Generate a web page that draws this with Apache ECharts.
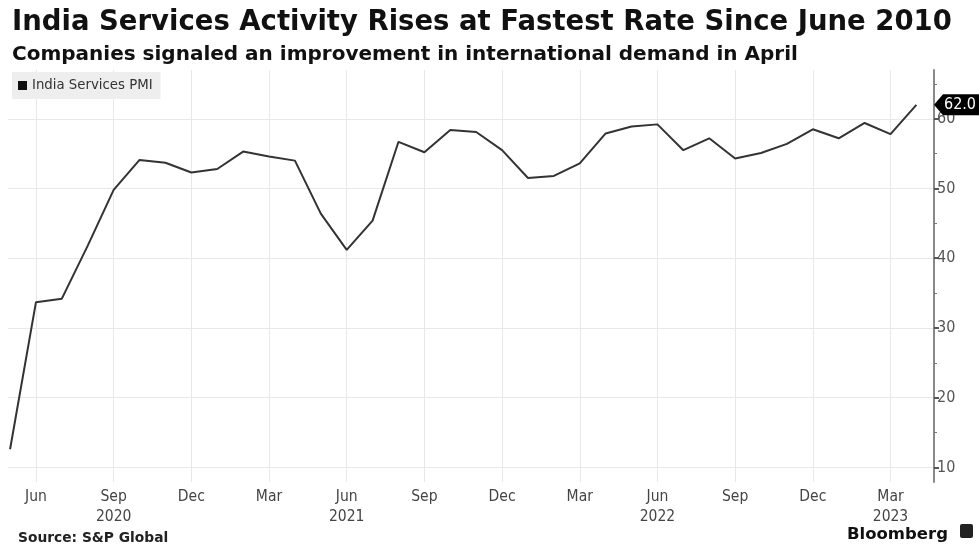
<!DOCTYPE html>
<html>
<head>
<meta charset="utf-8">
<script src="https://cdn.jsdelivr.net/npm/echarts@6/dist/echarts.min.js"></script>
<style>
html,body{margin:0;padding:0;background:#fff;}
#c{width:979px;height:544px;}
</style>
</head>
<body>
<div id="c"></div>
<script>
// ---- data ----
var months = ['2020-05','2020-06','2020-07','2020-08','2020-09','2020-10','2020-11','2020-12',
  '2021-01','2021-02','2021-03','2021-04','2021-05','2021-06','2021-07','2021-08','2021-09','2021-10','2021-11','2021-12',
  '2022-01','2022-02','2022-03','2022-04','2022-05','2022-06','2022-07','2022-08','2022-09','2022-10','2022-11','2022-12',
  '2023-01','2023-02','2023-03','2023-04'];
var pmi = [12.6, 33.7, 34.2, 41.8, 49.8, 54.1, 53.7, 52.3,
  52.8, 55.3, 54.6, 54.0, 46.4, 41.2, 45.4, 56.7, 55.2, 58.4, 58.1, 55.5,
  51.5, 51.8, 53.6, 57.9, 58.9, 59.2, 55.5, 57.2, 54.3, 55.1, 56.4, 58.5,
  57.2, 59.4, 57.8, 62.0];
var xTickMonths = ['2020-06','2020-09','2020-12','2021-03','2021-06','2021-09','2021-12','2022-03','2022-06','2022-09','2022-12','2023-03'];
var xTickLabels = ['Jun','Sep\n2020','Dec','Mar','Jun\n2021','Sep','Dec','Mar','Jun\n2022','Sep','Dec','Mar\n2023'];
var yTicks = [10, 20, 30, 40, 50, 60];
var yMinorTicks = [15, 25, 35, 45, 55, 65];
var seriesName = 'India Services PMI';
var lastLabel = '62.0';

// ---- chart ----
var FONT = '"DejaVu Sans", sans-serif';
var FONTC = '"DejaVu Sans Condensed", "DejaVu Sans", sans-serif';
var xTickIdx = xTickMonths.map(function (m) { return months.indexOf(m); });
var xMin = -0.08, xMax = 35.68, yMin = 7.9, yMax = 67;
var lineData = months.map(function (m, i) { return [i, pmi[i]]; });

var chart = echarts.init(document.getElementById('c'), null, {renderer: 'canvas'});
chart.setOption({
  animation: false,
  backgroundColor: '#fff',
  title: [
    {text: 'India Services Activity Rises at Fastest Rate Since June 2010', left: 7, top: 4,
     textStyle: {fontFamily: FONT, fontWeight: 'bold', fontSize: 27.5, color: '#111'}},
    {text: 'Companies signaled an improvement in international demand in April', left: 7, top: 40,
     textStyle: {fontFamily: FONT, fontWeight: 'bold', fontSize: 20, color: '#111'}},
    {text: 'Source: S&P Global', left: 13, top: 526,
     textStyle: {fontFamily: FONT, fontWeight: 'bold', fontSize: 13.8, color: '#222'}},
    {text: 'Bloomberg', right: 26, top: 521,
     textStyle: {fontFamily: FONT, fontWeight: 'bold', fontSize: 16.5, color: '#111'}}
  ],
  graphic: [
    {type: 'rect', right: 6, top: 524, shape: {width: 13, height: 14, r: 2}, style: {fill: '#222'}}
  ],
  legend: {
    data: [seriesName], left: 12, top: 72, backgroundColor: '#eeeeee', padding: [7, 8, 7, 6],
    icon: 'rect', itemWidth: 9, itemHeight: 9, itemGap: 4,
    textStyle: {fontFamily: FONT, fontSize: 13.3, color: '#333'}
  },
  grid: {left: 8, right: 45, top: 70, bottom: 62},
  xAxis: {
    type: 'value', min: xMin, max: xMax,
    axisLine: {show: false}, axisTick: {show: false, customValues: xTickIdx},
    axisLabel: {customValues: xTickIdx, margin: 5, lineHeight: 20,
      fontFamily: FONTC, fontSize: 15.5, color: '#444',
      formatter: function (v) { var k = xTickIdx.indexOf(Math.round(v)); return k >= 0 ? xTickLabels[k] : ''; }},
    splitLine: {show: true, lineStyle: {color: '#e8e8e8', width: 1}}
  },
  yAxis: [{
    type: 'value', position: 'right', min: yMin, max: yMax,
    axisLine: {show: true, onZero: false, lineStyle: {color: '#888', width: 2}},
    axisTick: {show: true, customValues: yTicks, length: 5, lineStyle: {color: '#555', width: 2}},
    axisLabel: {customValues: yTicks, margin: 3, fontFamily: FONTC, fontSize: 16, color: '#555'},
    splitLine: {show: true, lineStyle: {color: '#e8e8e8', width: 1}}
  }, {
    type: 'value', position: 'right', min: yMin, max: yMax,
    axisLine: {show: false, onZero: false},
    axisTick: {show: true, customValues: yMinorTicks, length: 3, lineStyle: {color: '#777', width: 1}},
    axisLabel: {show: false, customValues: yMinorTicks},
    splitLine: {show: false}
  }],
  series: [{
    name: seriesName, type: 'line', data: lineData, symbol: 'none',
    itemStyle: {color: '#111'},
    lineStyle: {color: '#333', width: 2},
    markPoint: {
      symbol: 'path://M0,10 L9,0 L46,0 L46,20 L9,20 Z', symbolSize: [46, 21], symbolOffset: [23, 0],
      symbolKeepAspect: false, itemStyle: {color: '#000'},
      label: {show: true, position: 'inside', offset: [3, 0], color: '#fff', fontFamily: FONTC, fontSize: 16,
        formatter: function () { return lastLabel; }},
      data: [{coord: [xMax, pmi[pmi.length - 1]]}]
    }
  }]
});
</script>
</body>
</html>
